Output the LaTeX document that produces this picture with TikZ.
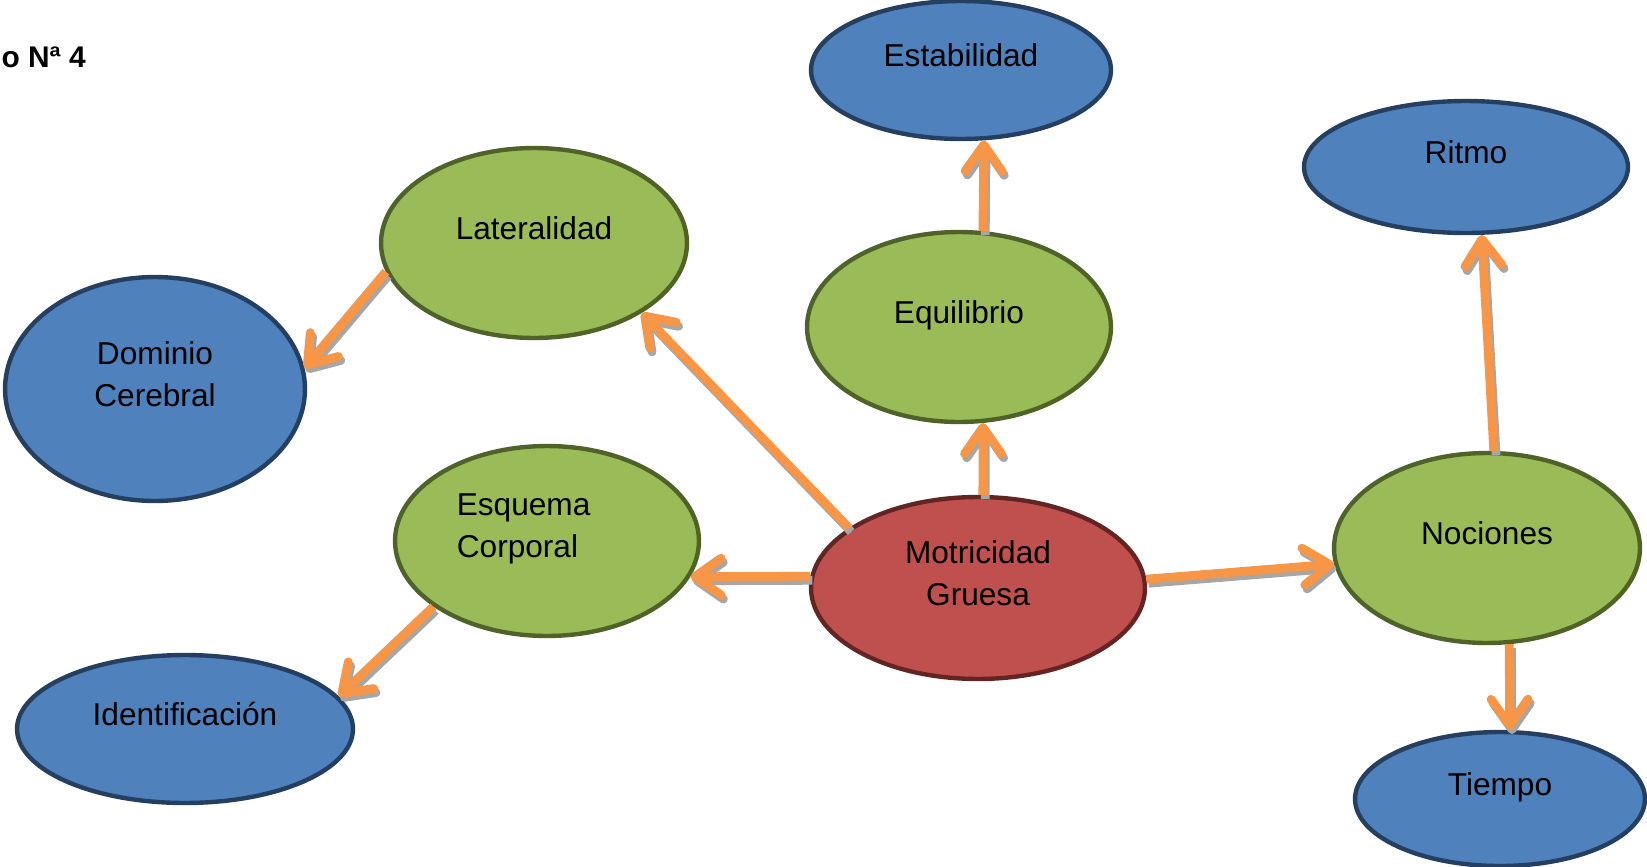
\documentclass[tikz,border=0pt]{standalone}
\usepackage{fontspec}
\setmainfont{Liberation Sans}
\usetikzlibrary{arrows.meta,shapes.geometric}
\definecolor{bfill}{HTML}{4F81BD}
\definecolor{bline}{HTML}{243F60}
\definecolor{gfill}{HTML}{9BBB59}
\definecolor{gline}{HTML}{4F6228}
\definecolor{rfill}{HTML}{C0504D}
\definecolor{rline}{HTML}{632523}
\definecolor{arrc}{HTML}{F79646}
\definecolor{shad}{HTML}{A6A6A6}
\tikzset{
  oval/.style={ellipse, line width=2.5pt, inner sep=0pt},
  bnode/.style={oval, fill=bfill, draw=bline},
  gnode/.style={oval, fill=gfill, draw=gline},
  rnode/.style={oval, fill=rfill, draw=rline},
  lbl/.style={font=\fontsize{18}{23.8}\selectfont, align=center, inner sep=0pt, text=black},
  conntip/.style={line width=5pt, -{Straight Barb[length=15pt,width=21pt,round]}},
  conn/.style={conntip, draw=arrc},
  shconn/.style={conntip, draw=shad, transform canvas={shift={(1.3pt,-2.3pt)}}}
}
\newcommand\myconn[2]{\draw[shconn] (#1) -- (#2); \draw[conn] (#1) -- (#2);}
\begin{document}
\begin{tikzpicture}[x=0.02cm,y=-0.02cm]
\useasboundingbox (0,0) rectangle (1647,866);
\node[anchor=base east, font=\fontsize{17}{20}\selectfont\bfseries, inner sep=0pt] (title) at (86,67) {o Nª 4};
% ellipses
\node[bnode, minimum width=6cm, minimum height=2.76cm] (est) at (961,70) {};
\node[bnode, minimum width=6.48cm, minimum height=2.64cm] (rit) at (1466,167) {};
\node[gnode, minimum width=6.12cm, minimum height=3.8cm] (lat) at (534,243) {};
\node[bnode, minimum width=6cm, minimum height=4.48cm] (dom) at (155,389) {};
\node[gnode, minimum width=6.08cm, minimum height=3.8cm] (equ) at (959,327) {};
\node[gnode, minimum width=6.08cm, minimum height=3.8cm] (esq) at (547,541) {};
\node[rnode, minimum width=6.68cm, minimum height=3.64cm] (mot) at (978,588) {};
\node[gnode, minimum width=6.12cm, minimum height=3.8cm] (noc) at (1487,548) {};
\node[bnode, minimum width=6.72cm, minimum height=2.96cm] (ide) at (185,729) {};
\node[bnode, minimum width=5.8cm, minimum height=2.68cm] (tie) at (1500,799) {};
% labels
\node[lbl] (estT) at ([yshift=8.5pt]est.center) {Estabilidad};
\node[lbl] (ritT) at ([yshift=8.5pt]rit.center) {Ritmo};
\node[lbl] (latT) at ([yshift=8.5pt]lat.center) {Lateralidad};
\node[lbl] (domT) at ([yshift=8.5pt]dom.center) {Dominio\\Cerebral};
\node[lbl] (equT) at ([yshift=6.7pt]equ.center) {Equilibrio};
\node[lbl, align=left] (esqT) at ([xshift=-13.3pt,yshift=6.7pt]esq.center) {Esquema\\Corporal};
\node[lbl] (motT) at ([yshift=8.5pt]mot.center) {Motricidad\\Gruesa};
\node[lbl] (nocT) at ([yshift=8.5pt]noc.center) {Nociones};
\node[lbl] (ideT) at ([yshift=8.5pt]ide.center) {Identificación};
\node[lbl] (tieT) at ([yshift=6.7pt]tie.center) {Tiempo};
% connectors
\myconn{mot.155}{lat.-33}
\myconn{lat.191}{dom.8}
\myconn{mot.176}{esq.-14}
\myconn{esq.210}{ide.12}
\myconn{mot.87}{equ.-76}
\myconn{equ.76}{est.-72}
\myconn{mot.3}{noc.186}
\myconn{noc.86}{rit.-77}
\myconn{noc.-77}{tie.82}
\end{tikzpicture}
\end{document}
